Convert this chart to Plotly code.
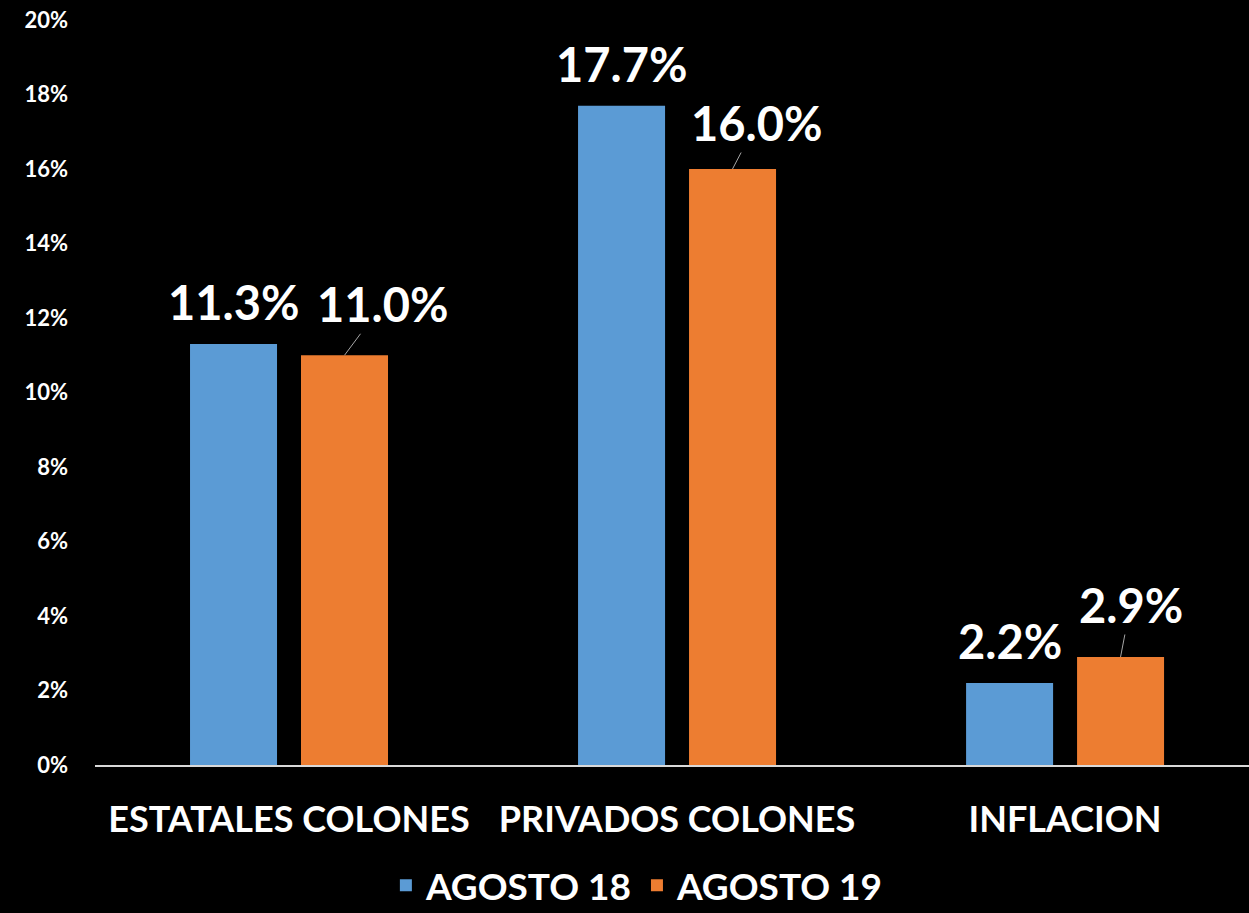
import plotly.graph_objects as go

categorias = ["ESTATALES COLONES", "PRIVADOS COLONES", "INFLACION"]
agosto_18 = [11.3, 17.7, 2.2]
agosto_19 = [11.0, 16.0, 2.9]
series = ["AGOSTO 18", "AGOSTO 19"]
ticks_y = [0, 2, 4, 6, 8, 10, 12, 14, 16, 18, 20]

AZUL = "#5B9BD5"
NARANJA = "#ED7D31"
FUENTE = "Lato"

# desplazamiento (px) de las etiquetas naranjas respecto a la punta de la barra
offsets_19 = [(38, -51), (24, -46), (10, -52)]
medio = 0.143  # mitad de la separacion entre centros de barras, en unidades de categoria

fig = go.Figure()
fig.add_trace(go.Bar(x=categorias, y=agosto_18, name=series[0], marker_color=AZUL, marker_line_width=0))
fig.add_trace(go.Bar(x=categorias, y=agosto_19, name=series[1], marker_color=NARANJA, marker_line_width=0))

for i, v in enumerate(agosto_18):
    fig.add_annotation(
        x=i - medio, y=v, text=f"{v:.1f}%", showarrow=False,
        yshift=42, font=dict(family=FUENTE, size=47, color="white", weight="bold"),
    )

for i, v in enumerate(agosto_19):
    ax, ay = offsets_19[i]
    fig.add_annotation(
        x=i + medio, y=v, text=f"{v:.1f}%", showarrow=True,
        arrowhead=0, arrowwidth=1, arrowcolor="#A6A6A6",
        ax=ax, ay=ay, standoff=0,
        font=dict(family=FUENTE, size=47, color="white", weight="bold"),
    )

fig.update_layout(
    width=1249, height=913,
    paper_bgcolor="black", plot_bgcolor="black",
    margin=dict(l=95, r=0, t=20, b=148, autoexpand=False),
    barmode="group", bargap=0.428, bargroupgap=0.216,
    font=dict(family=FUENTE, color="white"),
    showlegend=True,
    legend=dict(
        orientation="h", x=0.47, xanchor="center",
        yref="container", y=0.03, yanchor="middle",
        font=dict(family=FUENTE, size=37, color="white", weight="bold"),
        itemwidth=30,
    ),
)
fig.update_xaxes(
    type="category", range=[-0.5, 2.474], automargin=False,
    showline=True, linecolor="#D9D9D9", linewidth=2,
    showgrid=False, ticks="",
    tickfont=dict(family=FUENTE, size=36, color="white", weight="bold"),
    ticklabelstandoff=22,
)
fig.update_yaxes(
    range=[0, 20], tickvals=ticks_y, ticktext=[f"{t}%" for t in ticks_y],
    automargin=False,
    showgrid=False, zeroline=False, showline=False, ticks="",
    tickfont=dict(family=FUENTE, size=22, color="white", weight="bold"),
    ticklabelstandoff=26,
)

fig.write_html(
    "out.html",
    config={"displayModeBar": False},
    post_script="document.body.style.margin='0';document.body.style.background='black';",
)
